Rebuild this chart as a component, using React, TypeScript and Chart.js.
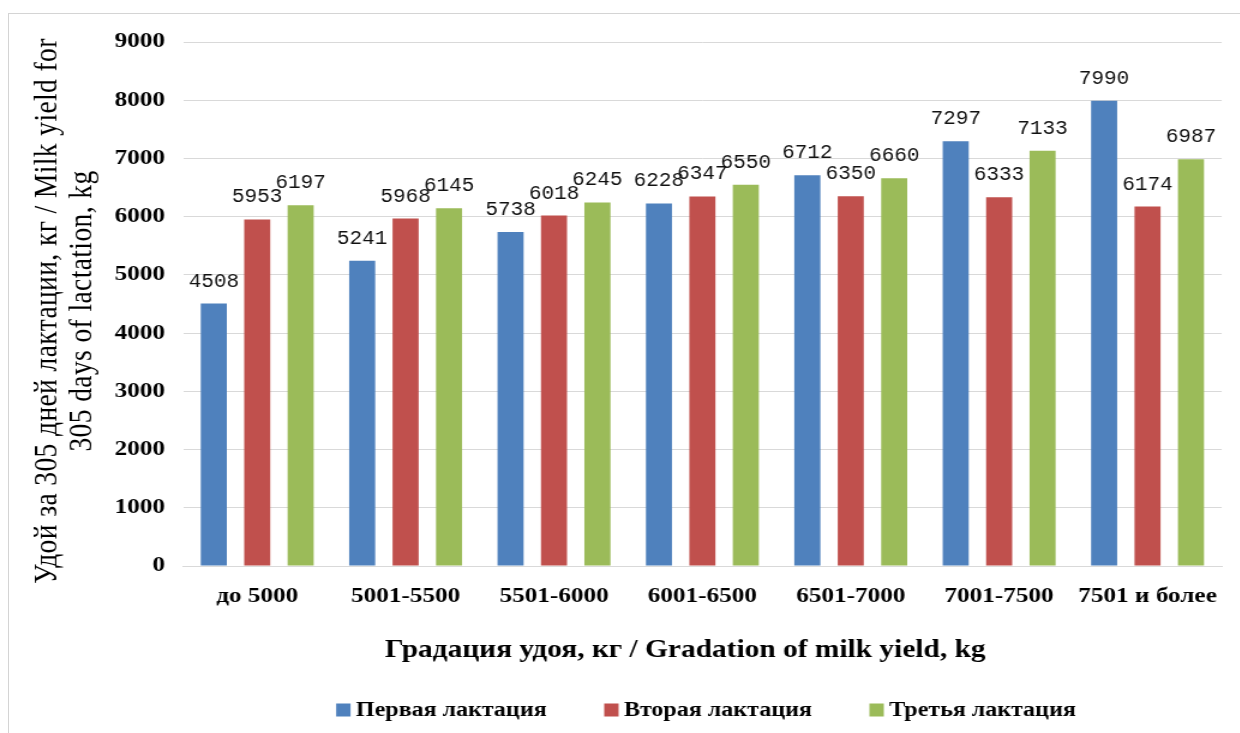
import React, { useEffect, useRef } from 'react';
import { Chart, registerables } from 'chart.js';

Chart.register(...registerables);

// The chart is laid out on a narrower canvas and widened horizontally by CSS.
const STRETCH = 1.2;
const CANVAS_W = 1033;
const CANVAS_H = 733;

const categories = ['до 5000', '5001-5500', '5501-6000', '6001-6500', '6501-7000', '7001-7500', '7501 и более'];
const seriesNames = ['Первая лактация', 'Вторая лактация', 'Третья лактация'];
const firstLactation = [4508, 5241, 5738, 6228, 6712, 7297, 7990];
const secondLactation = [5953, 5968, 6018, 6347, 6350, 6333, 6174];
const thirdLactation = [6197, 6145, 6245, 6550, 6660, 7133, 6987];
const seriesColors = ['#4F81BD', '#C0504D', '#9BBB59'];

const yMin = 0;
const yMax = 9000;
const yStep = 1000;

const yTitleLines = ['Удой за 305 дней лактации, кг / Milk yield for', '305 days of lactation, kg'];
const xTitle = 'Градация удоя, кг / Gradation of milk yield, kg';

const SERIF = '"Liberation Serif", "Times New Roman", serif';

// Value labels above each bar, drawn without the horizontal widening.
const valueLabels = {
  id: 'valueLabels',
  afterDatasetsDraw(chart: any) {
    const ctx = chart.ctx;
    chart.data.datasets.forEach((ds: any, i: number) => {
      const meta = chart.getDatasetMeta(i);
      meta.data.forEach((bar: any, j: number) => {
        ctx.save();
        ctx.translate(bar.x, bar.y - 17);
        ctx.scale(1 / STRETCH, 1);
        ctx.font = '21px "Liberation Mono", "DejaVu Sans Mono", monospace';
        ctx.fillStyle = '#111';
        ctx.textAlign = 'center';
        ctx.textBaseline = 'alphabetic';
        ctx.fillText(String(ds.data[j]), 0, 0);
        ctx.restore();
      });
    });
  },
};

// Axis titles and the legend row.
const chartTexts = {
  id: 'chartTexts',
  afterDraw(chart: any) {
    const ctx = chart.ctx;
    ctx.save();

    // value axis title, two rotated lines
    ctx.save();
    ctx.translate(40, 311);
    ctx.rotate(-Math.PI / 2);
    ctx.font = `27.5px ${SERIF}`;
    (ctx as any).letterSpacing = '0.4px';
    ctx.fillStyle = '#000';
    ctx.textAlign = 'center';
    ctx.textBaseline = 'middle';
    yTitleLines.forEach((line, i) => ctx.fillText(line, 0, i * 29));
    ctx.restore();

    // category axis title
    ctx.font = `bold 24.5px ${SERIF}`;
    ctx.fillStyle = '#000';
    ctx.textAlign = 'center';
    ctx.textBaseline = 'middle';
    ctx.fillText(xTitle, 571, 651);

    // legend
    const boxW = 12;
    const boxH = 13;
    const textGap = 4.5;
    const itemGap = 48;
    const cy = 710;
    ctx.font = `bold 20px ${SERIF}`;
    const items = chart.data.datasets.map((ds: any) => ({
      label: ds.label,
      color: ds.backgroundColor,
      width: boxW + textGap + ctx.measureText(ds.label).width,
    }));
    const total = items.reduce((s: number, it: any) => s + it.width, 0) + itemGap * (items.length - 1);
    const area = chart.chartArea;
    let x = (area.left + area.right) / 2 - total / 2 + 3;
    items.forEach((it: any) => {
      ctx.fillStyle = it.color;
      ctx.fillRect(x, cy - boxH / 2, boxW, boxH);
      ctx.fillStyle = '#000';
      ctx.textAlign = 'left';
      ctx.textBaseline = 'middle';
      ctx.fillText(it.label, x + boxW + textGap, cy + 1);
      x += it.width + itemGap;
    });
    ctx.restore();
  },
};

export default function App() {
  const canvasRef = useRef<HTMLCanvasElement | null>(null);

  useEffect(() => {
    const canvas = canvasRef.current;
    if (!canvas) return;
    const seriesValues = [firstLactation, secondLactation, thirdLactation];
    const chart = new Chart(canvas, {
      type: 'bar',
      data: {
        labels: categories,
        datasets: seriesNames.map((name, i) => ({
          label: name,
          data: seriesValues[i],
          backgroundColor: seriesColors[i],
          borderWidth: 0,
          categoryPercentage: 0.878,
          barPercentage: 0.6,
        })),
      },
      options: {
        responsive: false,
        maintainAspectRatio: false,
        devicePixelRatio: 1,
        animation: false,
        layout: { padding: { left: 0, right: 14, top: 42, bottom: 63 } },
        plugins: {
          legend: { display: false },
          tooltip: { enabled: false },
        },
        scales: {
          x: {
            grid: { display: false, drawTicks: false },
            border: { display: true, color: '#d9d9d9' },
            ticks: {
              color: '#000',
              font: { family: SERIF, size: 21, weight: 'bold' },
              padding: 18,
              maxRotation: 0,
              autoSkip: false,
            },
            afterFit: (scale: any) => {
              scale.height = 104;
            },
          },
          y: {
            min: yMin,
            max: yMax,
            grid: { color: '#d9d9d9', drawTicks: false, lineWidth: 1 },
            border: { display: false },
            ticks: {
              stepSize: yStep,
              color: '#000',
              font: { family: SERIF, size: 21, weight: 'bold' },
              padding: 15,
              callback: (v: any) => String(v),
            },
            afterFit: (scale: any) => {
              scale.width = 152.5;
            },
          },
        },
      },
      plugins: [valueLabels, chartTexts],
    } as any);
    return () => chart.destroy();
  }, []);

  return (
    <div style={{ position: 'fixed', left: 0, top: 0, right: 0, bottom: 0, overflow: 'hidden', background: '#fff' }}>
      <div
        style={{
          position: 'absolute',
          left: 8,
          top: 13,
          right: -20,
          bottom: -20,
          border: '1px solid #d4d4d4',
        }}
      />
      <div
        style={{
          position: 'absolute',
          left: 0,
          top: 0,
          width: CANVAS_W,
          height: CANVAS_H,
          transform: `scaleX(${STRETCH})`,
          transformOrigin: '0 0',
        }}
      >
        <canvas
          ref={canvasRef}
          width={CANVAS_W}
          height={CANVAS_H}
          style={{ display: 'block', width: `${CANVAS_W}px`, height: `${CANVAS_H}px` }}
        />
      </div>
    </div>
  );
}
